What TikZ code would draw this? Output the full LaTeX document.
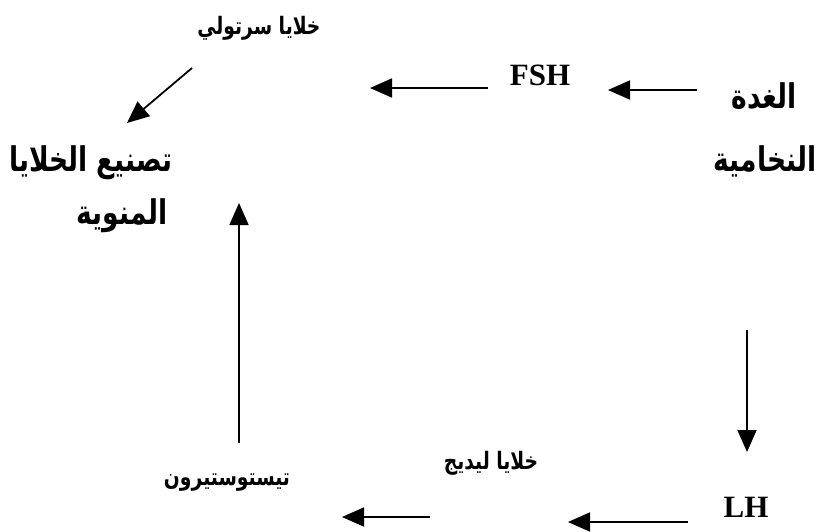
\documentclass[tikz,border=0pt]{standalone}
\usepackage{fontspec}
\setmainfont{Liberation Serif}
\newfontfamily\arabicfont[Script=Arabic,FakeStretch=0.78]{DejaVu Sans}
\TeXXeTstate=1
\usetikzlibrary{arrows.meta}
\tikzset{
  arbig/.style={font=\arabicfont\bfseries\fontsize{34}{38}\selectfont, inner sep=0pt},
  arsmall/.style={font=\arabicfont\bfseries\fontsize{24}{28}\selectfont, inner sep=0pt},
  latin/.style={font=\bfseries\fontsize{31}{34}\selectfont, inner sep=0pt},
  conn/.style={line width=1.8pt, -{Triangle[length=22pt,width=19pt]}}
}
\begin{document}
\begin{tikzpicture}[x=1pt,y=-1pt]
\useasboundingbox (0,0) rectangle (822,531);
\node[arsmall] (sert) at (259,28) {\beginR خلايا سرتولي\endR};
\node[arbig] (tasni) at (91,163) {\beginR تصنيع الخلايا\endR};
\node[arbig] (manw) at (122,216) {\beginR المنوية\endR};
\node[arbig] (ghuda) at (764,96) {\beginR الغدة\endR};
\node[arbig] (nukh) at (765,161) {\beginR النخامية\endR};
\node[latin] (fsh) at (540,75) {FSH};
\node[latin] (lh) at (746,507) {LH};
\node[arsmall] (leyd) at (491,463) {\beginR خلايا ليديج\endR};
\node[arsmall] (testo) at (227,483) {\beginR تيستوستيرون\endR};
\coordinate (g1) at (697,90); \coordinate (g2) at (608,90);
\coordinate (f1) at (488,88); \coordinate (f2) at (370,88);
\coordinate (s1) at (192,68); \coordinate (s2) at (127,123);
\coordinate (v1) at (747,330); \coordinate (v2) at (747,452);
\coordinate (l1) at (688,522); \coordinate (l2) at (568,522);
\coordinate (d1) at (430,517); \coordinate (d2) at (342,517);
\coordinate (t1) at (239,443); \coordinate (t2) at (239,203);
\draw[conn] (g1) -- (g2);
\draw[conn] (f1) -- (f2);
\draw[conn] (s1) -- (s2);
\draw[conn] (v1) -- (v2);
\draw[conn] (l1) -- (l2);
\draw[conn] (d1) -- (d2);
\draw[conn] (t1) -- (t2);
\end{tikzpicture}
\end{document}
